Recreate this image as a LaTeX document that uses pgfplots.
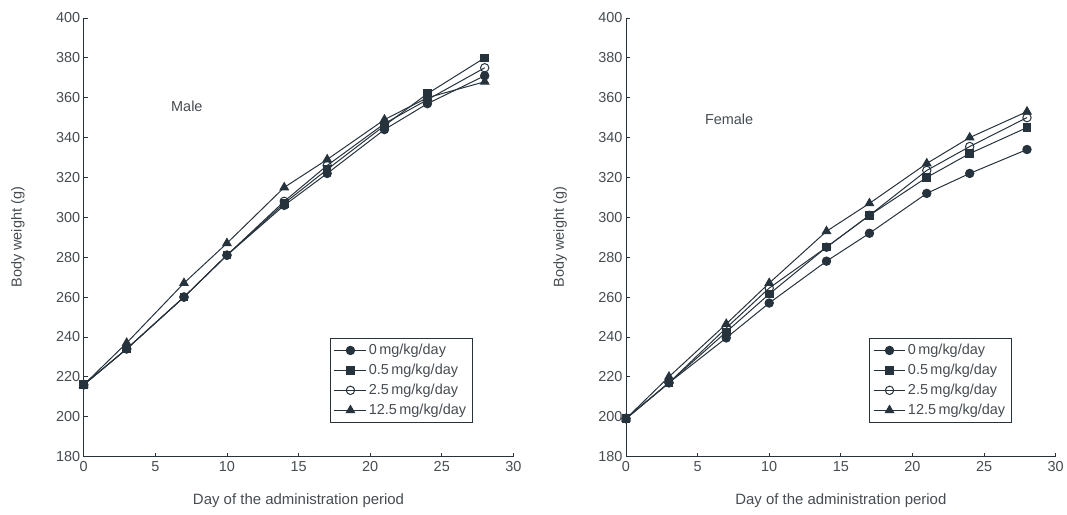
\documentclass[border=0pt]{standalone}
\usepackage{fontspec}
\setmainfont{Liberation Sans}
\usepackage{pgfplots}
\pgfplotsset{compat=1.18}
\definecolor{ln}{RGB}{38,50,60}
\definecolor{tx}{RGB}{70,76,82}
\pgfplotsset{
 bw/.style={
  scale only axis, width=431pt, height=440pt,
  xmin=0, xmax=30, ymin=180, ymax=400,
  xtick={0,5,...,30}, ytick={180,200,...,400},
  axis lines*=left, axis line style={ln, line width=0.8pt},
  tick style={ln, line width=0.8pt}, tick align=inside, major tick length=4pt,
  every tick label/.append style={font=\fontsize{14.5}{17}\selectfont, text=tx},
  every x tick label/.append style={yshift=-1.5pt},
  /pgf/number format/assume math mode=true,
  xlabel={Day of the administration period}, ylabel={Body weight (g)},
  every axis x label/.style={at={(axis description cs:0.5,0)}, yshift=-44pt, anchor=center, font=\fontsize{15}{17}\selectfont, text=tx},
  every axis y label/.style={at={(axis description cs:0,0.5)}, xshift=-66pt, rotate=90, anchor=center, font=\fontsize{14.5}{17}\selectfont, text=tx},
  clip=false,
  legend cell align=left,
  legend style={font=\fontsize{14.5}{16}\selectfont, text=tx, draw=ln, line width=0.8pt,
    anchor=south east, row sep=4pt, inner sep=4pt},
  legend image code/.code={\draw[mark repeat=2, mark phase=2, #1] plot coordinates {(0pt,0pt) (16pt,0pt) (32pt,0pt)};},
  every axis plot/.append style={ln, line width=1pt},
 },
 s0/.style={mark=*, mark size=4.2pt, mark options={fill=ln}},
 s1/.style={mark=square*, mark size=3.8pt, mark options={fill=ln}},
 s2/.style={mark=o, mark size=4.2pt, mark options={fill=white}},
 s3/.style={mark=triangle*, mark size=4.8pt, mark options={fill=ln}},
}
\begin{document}
\begin{tikzpicture}
\path (-84pt,-58pt) rectangle (983pt,458pt);
\begin{axis}[bw, at={(0pt,0pt)}, anchor=south west,
  legend style={at={(390/431,34/440)}}]
\addplot[s0] coordinates {(0,216) (3,234) (7,260) (10,281) (14,306) (17,322) (21,344) (24,357) (28,371)};
\addplot[s1] coordinates {(0,216) (3,234) (7,260) (10,281) (14,307) (17,324) (21,346) (24,362) (28,380)};
\addplot[s2] coordinates {(0,216) (3,234) (7,260) (10,281) (14,308) (17,326) (21,347) (24,359) (28,375)};
\addplot[s3] coordinates {(0,216) (3,237) (7,267) (10,287) (14,315) (17,329) (21,349) (24,360) (28,368)};
\legend{0\,mg/kg/day, 0.5\,mg/kg/day, 2.5\,mg/kg/day, 12.5\,mg/kg/day}
\node[font=\fontsize{14.5}{17}\selectfont, text=tx] at (axis cs:7.2,355.5) {Male};
\end{axis}
\begin{axis}[bw, at={(544pt,0pt)}, anchor=south west,
  legend style={at={(385/429,34/440)}}]
\addplot[s0] coordinates {(0,199) (3,217) (7,239.5) (10,257) (14,278) (17,292) (21,312) (24,322) (28,334)};
\addplot[s1] coordinates {(0,199) (3,217) (7,242.5) (10,261.5) (14,285) (17,301) (21,320) (24,332) (28,345)};
\addplot[s2] coordinates {(0,199) (3,217) (7,244.5) (10,264.5) (14,285) (17,301) (21,323.5) (24,335.5) (28,350)};
\addplot[s3] coordinates {(0,199) (3,220) (7,246.5) (10,267) (14,293) (17,307) (21,327) (24,340) (28,353)};
\legend{0\,mg/kg/day, 0.5\,mg/kg/day, 2.5\,mg/kg/day, 12.5\,mg/kg/day}
\node[font=\fontsize{14.5}{17}\selectfont, text=tx] at (axis cs:7.2,349) {Female};
\end{axis}
\end{tikzpicture}
\end{document}
